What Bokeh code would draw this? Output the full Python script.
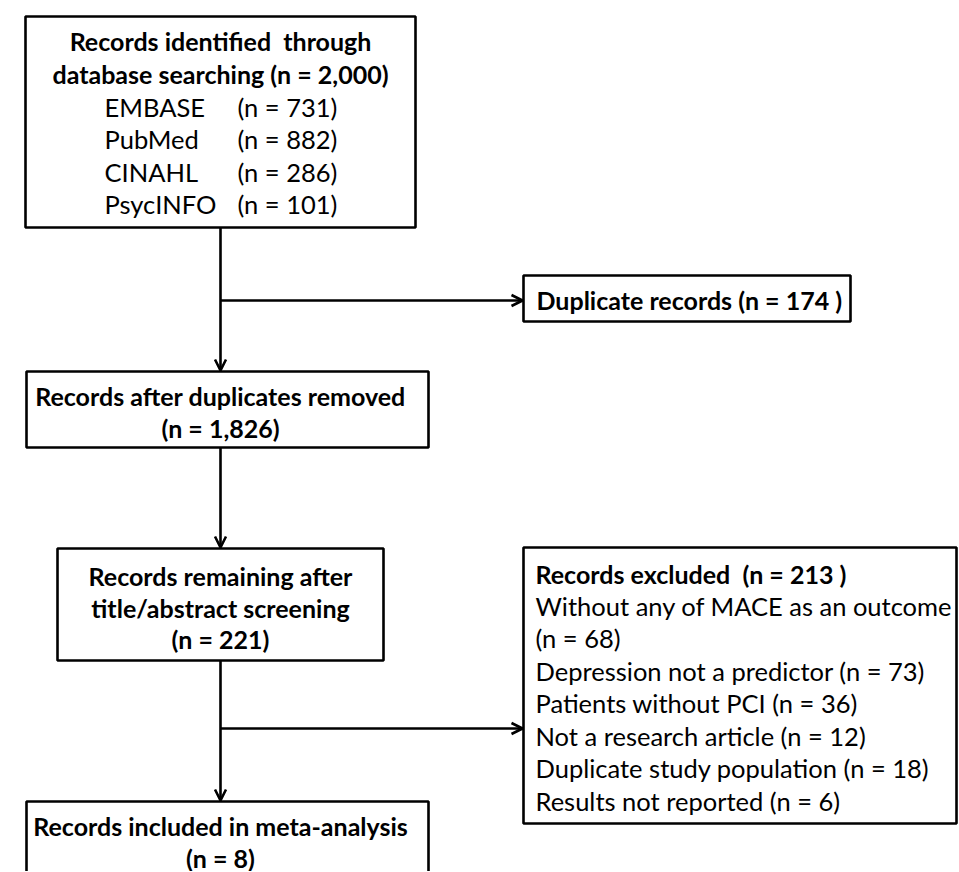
from bokeh.plotting import figure
from bokeh.models import Range1d, Arrow, OpenHead, ColumnDataSource
from bokeh.core.properties import value
from bokeh.embed import file_html
from bokeh.resources import INLINE

# ---- data ----
databases = ["EMBASE", "PubMed", "CINAHL", "PsycINFO"]
db_counts = [731, 882, 286, 101]
total_identified = "2,000"
duplicates = 174
after_duplicates = "1,826"
after_screening = 221
excluded_total = 213
excluded_reasons = [
    "Without any of MACE as an outcome",
    "(n = 68)",
    "Depression not a predictor (n = 73)",
    "Patients without PCI (n = 36)",
    "Not a research article (n = 12)",
    "Duplicate study population (n = 18)",
    "Results not reported (n = 6)",
]
included = 8

# ---- layout ----
W, H = 958, 871
p = figure(width=W, height=H, output_backend="svg", toolbar_location=None,
           x_range=Range1d(0, W), y_range=Range1d(H, 0),
           x_axis_type=None, y_axis_type=None, min_border=0)
p.grid.visible = False
p.outline_line_color = None
p.background_fill_color = "white"
p.border_fill_color = "white"

FONT = value("Lato")
FS_B = "25px"
FS_R = "25.5px"
LW = 2.6
CX = 220

boxes = dict(
    left=[25, 523, 26, 57, 523, 26],
    right=[415, 850, 428, 383, 956, 428],
    top=[16, 275, 371, 548, 547, 801],
    bottom=[227, 321, 447, 660, 823, 900],
)
p.quad(source=ColumnDataSource(boxes), left="left", right="right", top="top",
       bottom="bottom", fill_color="white", line_color="black", line_width=LW)

def arrow(x0, y0, x1, y1):
    p.add_layout(Arrow(end=OpenHead(size=11, line_width=LW, line_color="black"),
                       x_start=x0, y_start=y0, x_end=x1, y_end=y1,
                       line_width=LW, line_color="black"))

arrow(CX, 227, CX, 370)
arrow(CX, 300, 522, 300)
arrow(CX, 447, CX, 547)
arrow(CX, 660, CX, 800)
arrow(CX, 728, 522, 728)

def txt(x, y, s, bold=False, align="center"):
    p.text(x=[x], y=[y], text=[s], text_font=FONT,
           text_font_size=FS_B if bold else FS_R,
           text_font_style="bold" if bold else "normal", text_align=align,
           text_baseline="middle", text_color="black")

# box 1
txt(CX, 40, "Records identified\u00a0 through", bold=True)
txt(CX, 73, f"database searching (n = {total_identified})", bold=True)
for i, (name, c) in enumerate(zip(databases, db_counts)):
    y = 106 + i * 32.5
    txt(104, y, name, align="left")
    txt(237, y, f"(n = {c})", align="left")

# box 2
txt(536, 299, f"Duplicate records (n = {duplicates} )", bold=True, align="left")

# box 3
txt(CX, 395, "Records after duplicates removed", bold=True)
txt(CX, 427, f"(n = {after_duplicates})", bold=True)

# box 4
txt(CX, 575, "Records remaining after", bold=True)
txt(CX, 607, "title/abstract screening", bold=True)
txt(CX, 638, f"(n = {after_screening})", bold=True)

# box 5
txt(535, 573, f"Records excluded\u00a0 (n = {excluded_total} )", bold=True, align="left")
for i, s in enumerate(excluded_reasons):
    txt(535, 605 + i * 32.5, s, align="left")

# box 6
txt(CX, 825, "Records included in meta-analysis", bold=True)
txt(CX, 857, f"(n = {included})", bold=True)

open("out.html", "w").write(file_html(p, INLINE))
